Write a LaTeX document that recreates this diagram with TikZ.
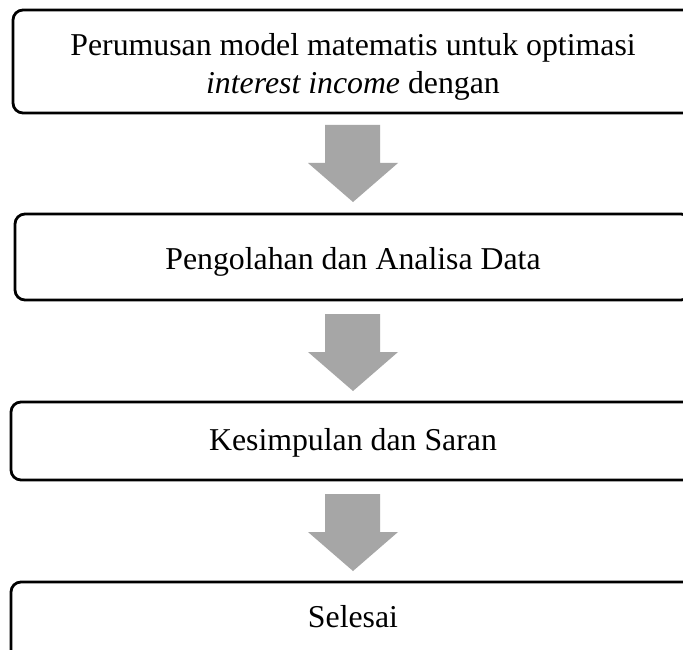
\documentclass[tikz,border=0pt]{standalone}
\usepackage{fontspec}
\setmainfont{Liberation Serif}
\definecolor{arrowgray}{HTML}{A6A6A6}
\begin{document}
\begin{tikzpicture}[x=1pt,y=-1pt,
  stepbox/.style={draw=black,line width=2.8pt,rounded corners=10pt,rectangle,fill=white,inner sep=0pt},
  txt/.style={inner sep=0pt,anchor=base,font=\fontsize{31.8}{38}\selectfont},
  blockarrow/.style={fill=arrowgray,draw=none}]
\useasboundingbox (0,0) rectangle (683,650);
\clip (0,0) rectangle (683,650);
\fill[white] (0,0) rectangle (683,650);
\node[stepbox,minimum width=680pt,minimum height=103pt] (b1) at (353,61.5) {};
\node[stepbox,minimum width=676pt,minimum height=86pt] (b2) at (353,257) {};
\node[stepbox,minimum width=684pt,minimum height=78pt] (b3) at (353,441) {};
\node[stepbox,minimum width=684pt,minimum height=90pt] (b4) at (353,627) {};
\node[txt] (t1a) at (353,56) {Perumusan model matematis untuk optimasi};
\node[txt] (t1b) at (353,94) {\textit{interest income} dengan};
\node[txt] (t2) at (353,269) {Pengolahan dan Analisa Data};
\node[txt] (t3) at (353,450) {Kesimpulan dan Saran};
\node[txt] (t4) at (353,627) {Selesai};
\foreach \dy in {0,189,369}{
  \fill[blockarrow] (325,125+\dy) -- (380,125+\dy) -- (380,163+\dy) -- (398,163+\dy)
    -- (353,202+\dy) -- (308,163+\dy) -- (325,163+\dy) -- cycle;
}
\end{tikzpicture}
\end{document}
